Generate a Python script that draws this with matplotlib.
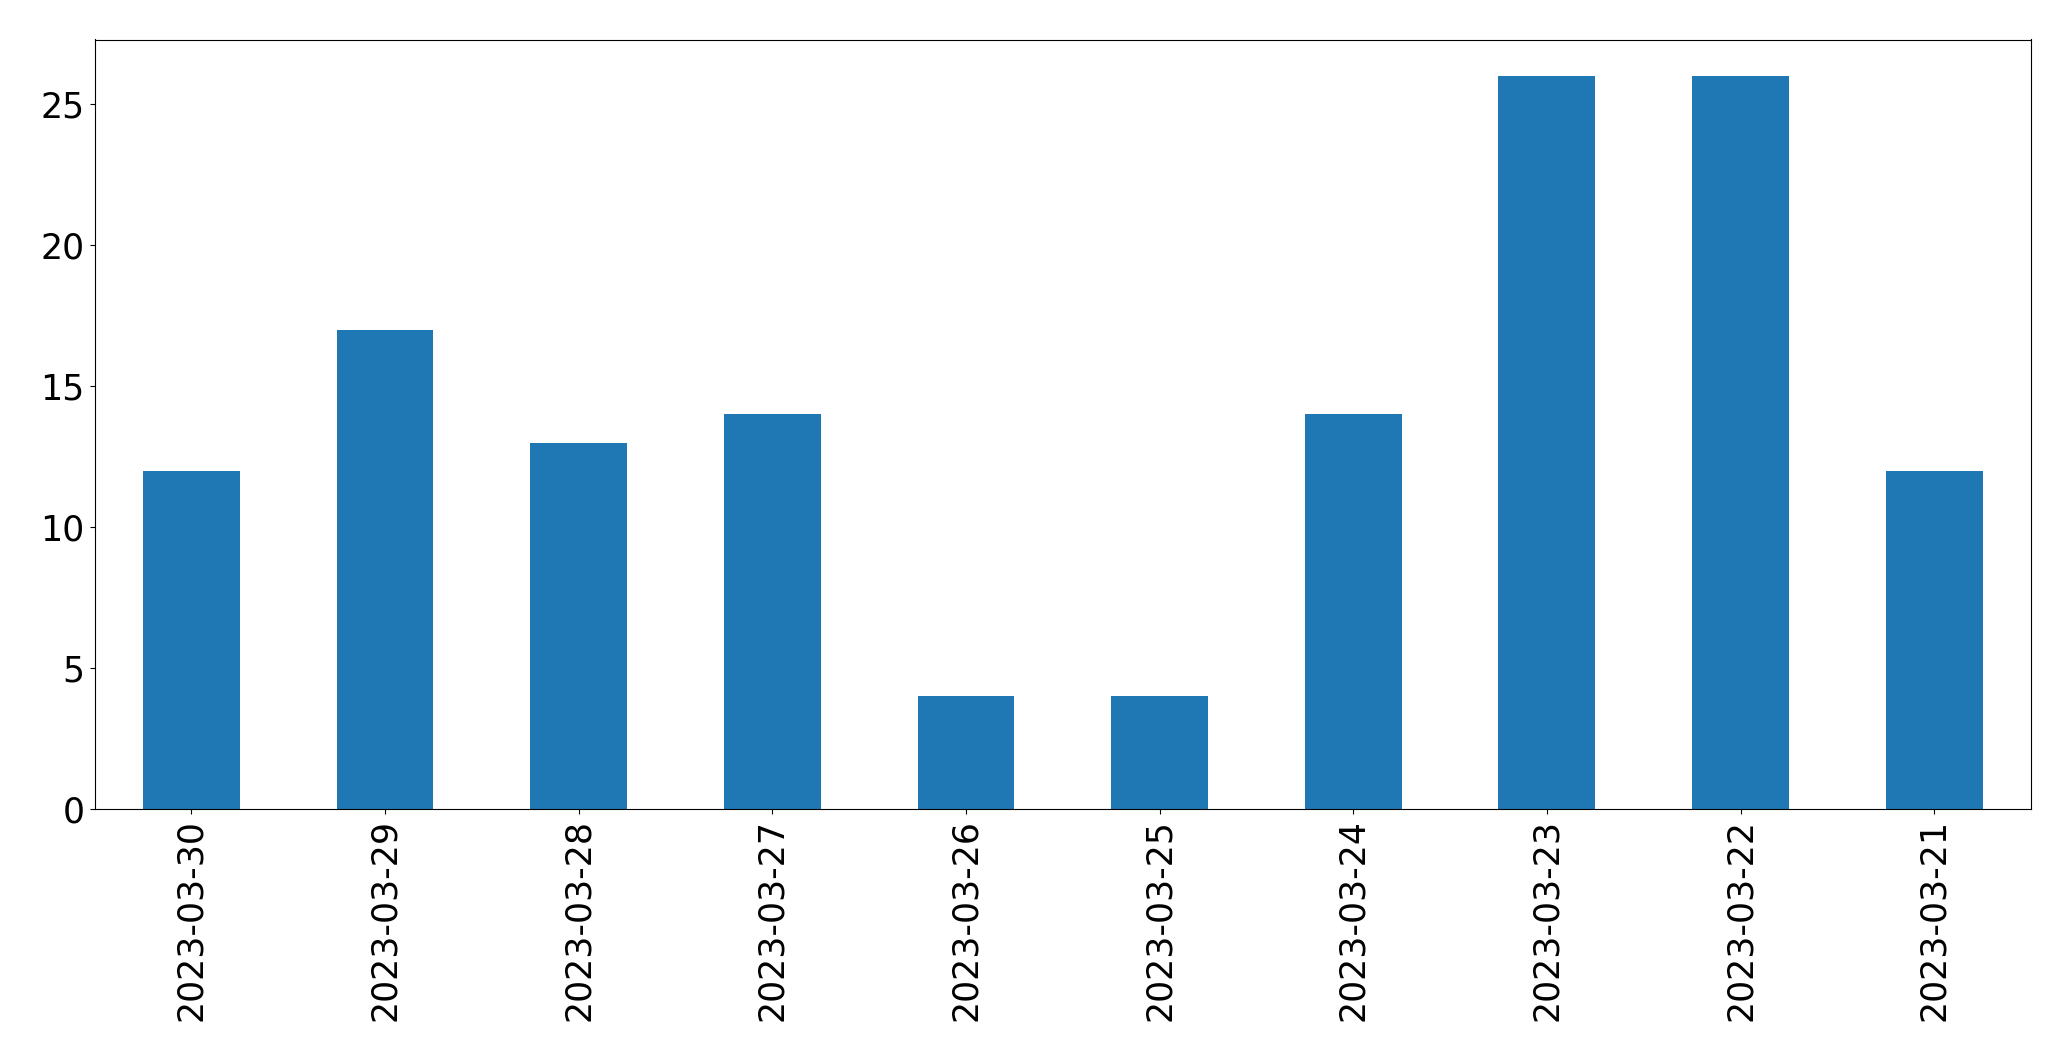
import matplotlib
matplotlib.use("Agg")
import matplotlib.pyplot as plt
import pandas as pd

dates = ["2023-03-30", "2023-03-29", "2023-03-28", "2023-03-27", "2023-03-26",
         "2023-03-25", "2023-03-24", "2023-03-23", "2023-03-22", "2023-03-21"]
counts = [12, 17, 13, 14, 4, 4, 14, 26, 26, 12]

fig = plt.figure(figsize=(20.71, 10.61), dpi=100)
ax = fig.add_axes([94.5 / 2071, 1 - 809 / 1061, (2031 - 94.5) / 2071, (809 - 39.5) / 1061])
s = pd.Series(counts, index=dates)
s.plot(kind="bar", ax=ax, color="#1f77b4", fontsize=25)
ax.tick_params(axis="both", labelsize=25)
fig.savefig("out.png", dpi=100)
